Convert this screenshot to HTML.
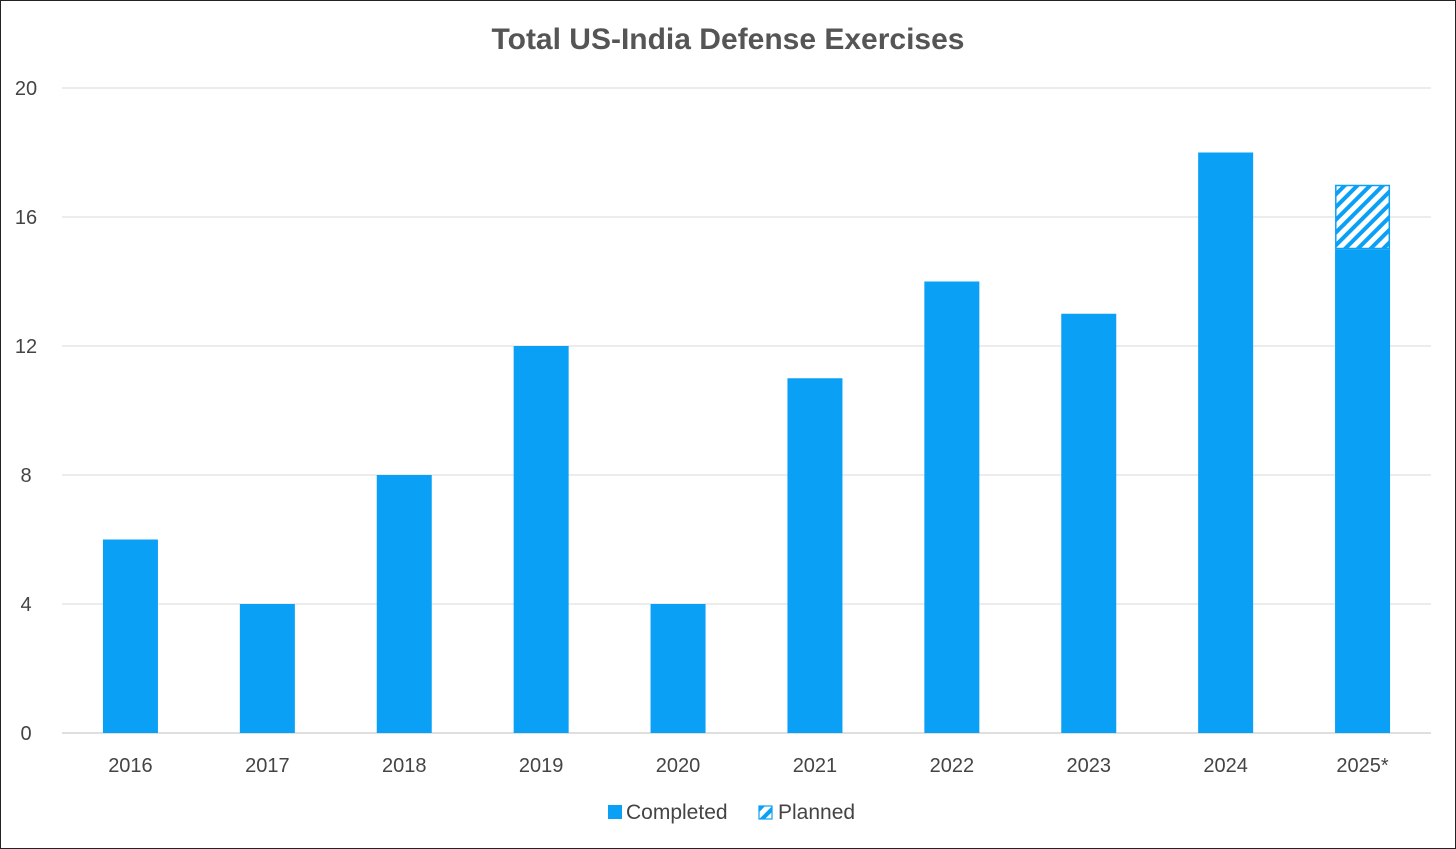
<!DOCTYPE html>
<html><head><meta charset="utf-8"><style>
html,body{margin:0;padding:0;background:#fff}
svg{display:block}
text{font-family:"Liberation Sans",sans-serif}
</style></head><body>
<svg id="chart" width="1456" height="849" viewBox="0 0 1456 849">
<defs>
<pattern id="hatch" patternUnits="userSpaceOnUse" width="9" height="9" patternTransform="rotate(45)">
<rect width="9" height="9" fill="#fff"/>
<rect width="4" height="9" fill="#0aa0f5"/>
</pattern>
</defs>
<rect x="0.5" y="0.5" width="1455" height="848" fill="#fff" stroke="#222" stroke-width="1"/>
<text x="728" y="49" text-anchor="middle" font-size="30" font-weight="bold" fill="#555">Total US-India Defense Exercises</text>
<g id="grid"></g>
<g id="bars"></g>
<g id="xlabels"></g>
<g>
<rect x="608" y="805" width="14" height="14" fill="#0aa0f5"/>
<text x="626" y="819" font-size="21" fill="#444">Completed</text>
<rect x="759" y="806" width="13" height="13" fill="url(#hatch)" stroke="#0aa0f5" stroke-width="1.2"/>
<text x="778" y="819" font-size="21" fill="#444">Planned</text>
</g>
</svg>
<script>
const categories = ["2016","2017","2018","2019","2020","2021","2022","2023","2024","2025*"];
const completed = [6,4,8,12,4,11,14,13,18,15];
const planned = [0,0,0,0,0,0,0,0,0,2];
const yTicks = [0,4,8,12,16,20];
const NS="http://www.w3.org/2000/svg";
const left=62,right=1431,y0=733,y20=88,yMax=20;
const y=v=>y0-(y0-y20)*v/yMax;
const band=(right-left)/categories.length;
const xc=i=>left+band*(i+0.5);
const bw=55;
function mk(tag,attrs,parent){const e=document.createElementNS(NS,tag);for(const k in attrs)e.setAttribute(k,attrs[k]);parent.appendChild(e);return e;}
const grid=document.getElementById('grid');
yTicks.forEach(t=>{
  const l=mk('line',{x1:left,x2:right,y1:y(t),y2:y(t),stroke:t===0?'#bfbfbf':'#d9d9d9','stroke-width':1},grid);
  
  
  const tx=mk('text',{x:26,y:y(t)+7,'font-size':20,fill:'#444','text-anchor':'middle'},grid);
  tx.textContent=t;
  
  
});
const bars=document.getElementById('bars'),xl=document.getElementById('xlabels');
categories.forEach((c,i)=>{
  const b=mk('rect',{x:xc(i)-bw/2,y:y(completed[i]),width:bw,height:y(0)-y(completed[i]),fill:'#0aa0f5'},bars);
  
  
  if(planned[i]>0){
    const top=completed[i]+planned[i];
    const p=mk('rect',{x:xc(i)-bw/2+0.75,y:y(top)+0.75,width:bw-1.5,height:y(completed[i])-y(top)-1.5,fill:'url(#hatch)',stroke:'#0aa0f5','stroke-width':1.5},bars);
    
    
  }
  const t=mk('text',{x:xc(i),y:772,'font-size':20,fill:'#444','text-anchor':'middle'},xl);
  t.textContent=c;
  
  
});
</script>
</body></html>
